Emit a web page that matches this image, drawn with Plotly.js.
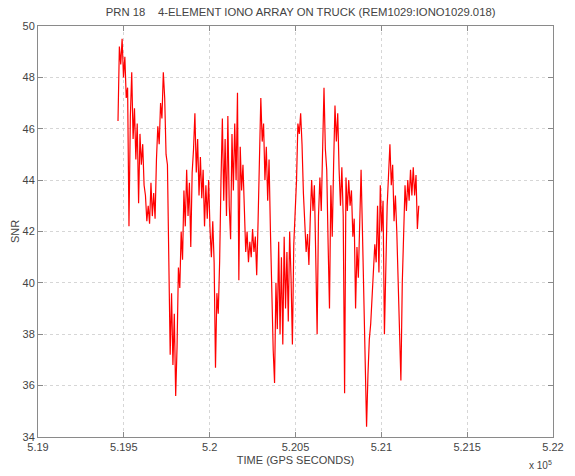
<!DOCTYPE html>
<html>
<head>
<meta charset="utf-8">
<script src="https://cdn.plot.ly/plotly-3.0.1.min.js"></script>
<style>html,body{margin:0;padding:0;background:#fff;}#chart{width:575px;height:476px;}</style>
</head>
<body>
<div id="chart"></div>
<script>
// GPS time (seconds) of each sample
var gpsTime = [
519466,519474,519482,519490,519498,519506,519514,519522,519530,519538,
519546,519554,519562,519570,519578,519586,519594,519602,519610,519618,
519626,519634,519642,519650,519658,519666,519674,519682,519690,519698,
519706,519714,519722,519730,519738,519746,519754,519762,519770,519778,
519786,519794,519802,519810,519818,519826,519834,519842,519850,519858,
519866,519874,519882,519890,519898,519906,519914,519922,519930,519938,
519946,519954,519962,519970,519978,519986,519994,520002,520010,520018,
520026,520034,520042,520050,520058,520066,520074,520082,520090,520098,
520106,520114,520122,520130,520138,520146,520154,520162,520170,520178,
520186,520194,520202,520210,520218,520226,520234,520242,520250,520258,
520266,520274,520282,520290,520298,520306,520314,520322,520330,520338,
520346,520354,520362,520370,520378,520386,520394,520402,520410,520418,
520426,520434,520442,520450,520458,520466,520474,520482,520490,520498,
520506,520514,520522,520530,520538,520546,520554,520562,520570,520578,
520586,520594,520602,520610,520618,520626,520634,520642,520650,520658,
520666,520674,520682,520690,520698,520706,520714,520722,520730,520738,
520746,520754,520762,520770,520778,520786,520794,520802,520810,520818,
520826,520834,520842,520850,520858,520866,520874,520882,520890,520898,
520906,520914,520922,520930,520938,520946,520954,520962,520970,520978,
520986,520994,521002,521010,521018,521026,521034,521042,521050,521058,
521066,521074,521082,521090,521098,521106,521114,521122,521130,521138,
521146,521154,521162,521170,521178,521186,521194,521202,521210,521218
];
// SNR
var snr = [
46.3,49.2,48.5,49.5,48.0,48.8,47.2,47.6,42.2,46.5,
48.2,45.6,46.8,44.8,46.2,43.1,45.8,44.6,45.4,43.8,
43.4,42.4,43.0,42.3,43.9,42.6,43.5,42.5,44.8,46.1,
45.4,47.0,46.4,48.2,47.2,45.0,44.6,40.2,37.2,39.6,
36.8,38.8,35.6,37.5,40.6,39.8,42.0,40.9,43.6,42.2,
44.4,42.6,43.9,41.4,44.3,45.2,46.6,44.3,45.6,43.4,
44.9,43.3,44.4,42.2,43.8,42.5,44.0,42.1,41.0,42.4,
40.8,36.7,39.6,38.8,40.8,44.0,46.4,43.2,45.6,42.6,
46.5,43.0,41.7,45.8,43.6,46.2,44.0,47.4,40.1,45.3,
43.6,44.6,42.4,41.2,42.0,40.8,41.6,41.0,42.1,41.2,
41.8,40.3,42.4,44.8,47.2,45.5,46.2,44.0,45.3,43.2,
44.8,42.0,39.0,37.4,36.1,40.0,38.2,41.6,38.0,41.0,
37.6,41.8,39.0,41.2,38.5,42.0,40.2,37.6,41.5,42.8,
44.0,46.2,45.8,46.6,45.4,43.5,42.0,41.2,41.9,40.7,
42.5,44.0,42.8,43.8,41.0,38.0,42.6,44.1,42.8,46.0,
47.6,45.2,44.4,41.5,39.0,43.8,41.8,44.6,46.9,45.5,
46.6,44.4,43.0,44.5,42.6,35.7,44.1,42.8,44.0,43.0,
43.6,41.8,42.5,39.0,41.4,40.2,43.0,44.4,42.0,39.6,
37.0,34.4,36.4,37.8,38.4,39.6,40.2,41.5,40.8,43.0,
40.4,43.8,42.0,43.2,38.0,41.0,43.0,44.2,45.4,43.8,
44.6,42.4,43.4,42.0,40.0,38.0,36.2,40.0,42.6,43.8,
42.8,44.0,43.2,44.4,43.4,44.5,43.4,44.2,42.1,43.0
];
var xTickVals = [519000,519500,520000,520500,521000,521500,522000];
var xTickText = ['5.19','5.195','5.2','5.205','5.21','5.215','5.22'];
var yTickVals = [34,36,38,40,42,44,46,48,50];

var FONT = 'Liberation Sans, Arial, sans-serif';
var axisCommon = {
  showline: true, linecolor: '#8a8a8a', linewidth: 1, mirror: 'ticks',
  ticks: 'inside', ticklen: 5, tickcolor: '#8a8a8a',
  showgrid: true, gridcolor: '#d6d6d6', griddash: 'dot', gridwidth: 1,
  zeroline: false,
  tickfont: {family: FONT, size: 11, color: '#444'}
};

var trace = {
  x: gpsTime, y: snr, type: 'scatter', mode: 'lines',
  line: {color: '#ff0000', width: 1.2}, hoverinfo: 'skip'
};

var layout = {
  width: 575, height: 476,
  margin: {l: 38, r: 22, t: 26, b: 39},
  paper_bgcolor: '#fff', plot_bgcolor: '#fff',
  showlegend: false,
  title: {text: 'PRN 18    4-ELEMENT IONO ARRAY ON TRUCK (REM1029:IONO1029.018)',
    font: {family: FONT, size: 11.3, color: '#444'},
    x: 0.51, xanchor: 'center', xref: 'paper', y: 0.975, yanchor: 'middle'},
  xaxis: Object.assign({}, axisCommon, {
    range: [519000, 522000], tickmode: 'array', tickvals: xTickVals, ticktext: xTickText,
    title: {text: 'TIME (GPS SECONDS)', standoff: 4,
      font: {family: FONT, size: 11, color: '#444'}}
  }),
  yaxis: Object.assign({}, axisCommon, {
    range: [34, 50], tickmode: 'array', tickvals: yTickVals,
    title: {text: 'SNR', standoff: 0,
      font: {family: FONT, size: 11, color: '#444'}}
  }),
  annotations: [{
    text: 'x 10<sup>5</sup>', xref: 'paper', yref: 'paper', x: 0.975, y: -0.068,
    xanchor: 'center', yanchor: 'middle', showarrow: false,
    font: {family: FONT, size: 10, color: '#444'}
  }]
};

Plotly.newPlot('chart', [trace], layout, {displayModeBar: false, staticPlot: true});
</script>
</body>
</html>
